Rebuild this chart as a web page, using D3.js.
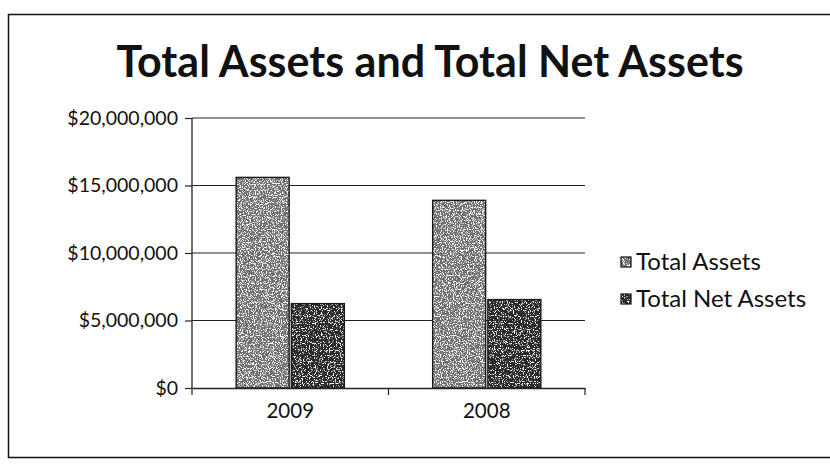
<!DOCTYPE html>
<html><head><meta charset="utf-8">
<script src="https://cdn.jsdelivr.net/npm/d3@7"></script>
<style>body{margin:0;background:#fff}svg{display:block}</style>
</head><body>
<svg id="c" width="830" height="470"></svg>
<script>
const categories = ["2009", "2008"];
const seriesNames = ["Total Assets", "Total Net Assets"];
const totalAssets = [15600000, 13900000];
const totalNetAssets = [6250000, 6550000];
const yTicks = [0, 5000000, 10000000, 15000000, 20000000];
const title = "Total Assets and Total Net Assets";

const svg = d3.select("#c");
const font = "Lato, 'Open Sans', sans-serif";

const defs = svg.append("defs");
function grain(id, base, seed) {
  const f = defs.append("filter").attr("id", id).attr("x", 0).attr("y", 0).attr("width", 1).attr("height", 1);
  f.append("feTurbulence").attr("type", "fractalNoise").attr("baseFrequency", 0.85).attr("numOctaves", 2).attr("seed", seed).attr("result", "n");
  f.append("feColorMatrix").attr("in", "n").attr("type", "matrix")
    .attr("values", "0 0 0 0 1  0 0 0 0 1  0 0 0 0 1  0 0 0 -9 " + base).attr("result", "w");
  f.append("feComposite").attr("in", "w").attr("in2", "SourceGraphic").attr("operator", "atop");
}
grain("g1", 4.3, 3);
grain("g2", 3.9, 7);

// frame
svg.append("rect").attr("x", 8.5).attr("y", 14.5).attr("width", 840).attr("height", 443)
  .attr("fill", "none").attr("stroke", "#111").attr("stroke-width", 1.5);

svg.append("text").attr("x", 430).attr("y", 77).attr("text-anchor", "middle")
  .attr("font-family", font).attr("font-weight", "bold").attr("font-size", 43).attr("fill", "#111")
  .text(title);

const x0 = d3.scaleBand().domain(categories).range([192, 585]).padding(0);
const x1 = d3.scaleBand().domain(seriesNames).range([0, x0.bandwidth()]).paddingInner(0.04).paddingOuter(0.8);
const y = d3.scaleLinear().domain([0, 20000000]).range([388, 118]);
const colors = {"Total Assets": "#707070", "Total Net Assets": "#2c2c2c"};
const filt = {"Total Assets": "url(#g1)", "Total Net Assets": "url(#g2)"};

// gridlines
svg.append("g").selectAll("line").data(yTicks.filter(d => d > 0)).join("line")
  .attr("x1", 192).attr("x2", 585).attr("y1", d => y(d)).attr("y2", d => y(d))
  .attr("stroke", "#222").attr("stroke-width", 1.2);

const data = categories.map((c, i) => ({cat: c, vals: [
  {s: seriesNames[0], v: totalAssets[i]}, {s: seriesNames[1], v: totalNetAssets[i]}]}));

const groups = svg.append("g").selectAll("g").data(data).join("g")
  .attr("transform", d => `translate(${x0(d.cat)},0)`);
groups.selectAll("rect.fill").data(d => d.vals).join("rect").attr("class", "fill")
  .attr("x", d => x1(d.s)).attr("width", x1.bandwidth())
  .attr("y", d => y(d.v)).attr("height", d => y(0) - y(d.v))
  .attr("fill", d => colors[d.s]).attr("filter", d => filt[d.s]);
groups.selectAll("rect.edge").data(d => d.vals).join("rect").attr("class", "edge")
  .attr("x", d => x1(d.s)).attr("width", x1.bandwidth())
  .attr("y", d => y(d.v)).attr("height", d => y(0) - y(d.v))
  .attr("fill", "none").attr("stroke", "#1a1a1a").attr("stroke-width", 1.4);

// y axis
const yAxis = d3.axisLeft(y).tickValues(yTicks).tickSize(7).tickPadding(7)
  .tickFormat(d => "$" + d3.format(",")(d));
const ya = svg.append("g").attr("transform", "translate(192,0)").call(yAxis);
ya.select(".domain").attr("stroke", "#222").attr("stroke-width", 1.3).attr("d", `M0,${y(20000000)}V${y(0)}`);
ya.selectAll(".tick line").attr("stroke", "#222").attr("stroke-width", 1.2);
ya.selectAll("text").attr("font-family", font).attr("font-size", 19.5).attr("fill", "#111");

// x axis
const xa = svg.append("g").attr("transform", `translate(0,${y(0)})`)
  .call(d3.axisBottom(x0).tickSize(0).tickPadding(15));
xa.select(".domain").attr("stroke", "#222").attr("stroke-width", 1.3);
xa.selectAll("text").attr("font-family", font).attr("font-size", 20.5).attr("fill", "#111");
const edges = [x0.range()[0]].concat(categories.map(c => x0(c) + x0.bandwidth()));
xa.selectAll(".edge").data(edges).join("line").attr("class", "edge")
  .attr("x1", d => d).attr("x2", d => d).attr("y1", 0).attr("y2", 7)
  .attr("stroke", "#222").attr("stroke-width", 1.2);

// legend
const lg = svg.append("g").selectAll("g").data(seriesNames).join("g")
  .attr("transform", (d, i) => `translate(621,${262 + i * 37})`);
lg.append("rect").attr("x", 0).attr("y", -5).attr("width", 10).attr("height", 10)
  .attr("fill", d => colors[d]).attr("filter", d => filt[d]);
lg.append("rect").attr("x", 0).attr("y", -5).attr("width", 10).attr("height", 10)
  .attr("fill", "none").attr("stroke", "#111").attr("stroke-width", 1.2);
lg.append("text").attr("x", 15).attr("y", 0).attr("dy", "0.35em")
  .attr("font-family", font).attr("font-size", 24).attr("fill", "#111").text(d => d);
</script>
</body></html>
